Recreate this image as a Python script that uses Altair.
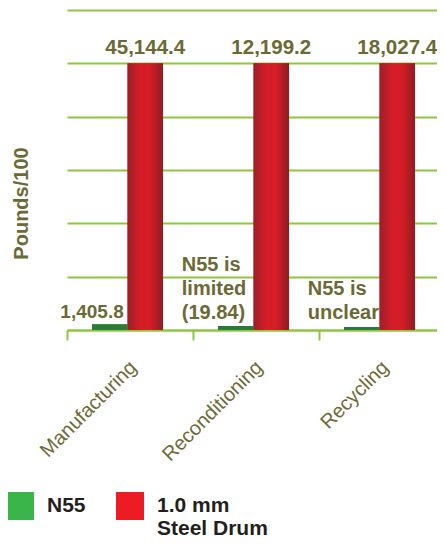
import altair as alt
import pandas as pd

# ---- data ----
categories = ["Manufacturing", "Reconditioning", "Recycling"]
series_names = ["N55", "1.0 mm Steel Drum"]
# bar heights as drawn, measured in grid steps (the picture is not to scale)
n55_bar_height = [0.11, 0.075, 0.055]
drum_bar_height = [5.0, 5.0, 5.0]
drum_value_labels = ["45,144.4", "12,199.2", "18,027.4"]
n55_value_labels = ["1,405.8", "", ""]
n55_notes = [[], ["N55 is", "limited", "(19.84)"], ["N55 is", "unclear"]]

OLIVE = "#6b6a34"
GRID = "#8dc63f"
FONT = "Liberation Sans"
NOTE_LINE = 24

rows = []
for i, c in enumerate(categories):
    rows.append({"category": c, "series": series_names[0], "height": n55_bar_height[i],
                 "label": n55_value_labels[i], "note": n55_notes[i]})
    rows.append({"category": c, "series": series_names[1], "height": drum_bar_height[i],
                 "label": drum_value_labels[i], "note": []})
df = pd.DataFrame(rows)

x = alt.X("category:N", sort=categories, title=None,
          scale=alt.Scale(paddingInner=0, paddingOuter=0),
          axis=alt.Axis(domainColor=GRID, domainWidth=2, tickColor=GRID, tickWidth=2,
                        tickSize=10, tickBand="extent", labelAngle=315, labelAlign="right",
                        labelBaseline="middle", labelPadding=24, labelOffset=3,
                        labelFont=FONT, labelFontSize=20, labelColor=OLIVE, grid=False))
xo = alt.XOffset("series:N", sort=series_names,
                 scale=alt.Scale(domain=series_names, paddingInner=0, paddingOuter=0.775, align=0.455))
y = alt.Y("height:Q", title="Pounds/100",
          scale=alt.Scale(domain=[0, 6], nice=False, zero=True),
          axis=alt.Axis(values=[0, 1, 2, 3, 4, 5, 6], labels=False, ticks=False, domain=False,
                        grid=True, gridColor=GRID, gridWidth=2,
                        titleX=-46, titleY=193, titleAngle=270, titleAlign="center",
                        titleBaseline="middle", titleFont=FONT, titleFontSize=20,
                        titleFontWeight="bold", titleColor=OLIVE))

base = alt.Chart(df)

legend_bars = base.mark_bar().encode(
    x=x, xOffset=xo, y=y,
    color=alt.Color("series:N", sort=series_names,
                    scale=alt.Scale(domain=series_names, range=["#3ab54a", "#ed1c24"]),
                    legend=alt.Legend(title=None, orient="none", legendX=-61, legendY=482,
                                      direction="horizontal", symbolType="square",
                                      symbolSize=784, symbolStrokeWidth=0, padding=0,
                                      labelFont=FONT, labelFontSize=21, labelFontWeight="bold",
                                      labelColor="#231f20", labelOffset=13, columnPadding=30,
                                      labelLimit=300, labelBaseline="middle",
                                      labelExpr="datum.label == '1.0 mm Steel Drum' ? ['1.0 mm', 'Steel Drum'] : [datum.label, '']")),
)

red_grad = alt.Gradient(gradient="linear", x1=0, x2=1, y1=0, y2=0,
                        stops=[alt.GradientStop(offset=0, color="#9c2027"),
                               alt.GradientStop(offset=0.35, color="#d41d27"),
                               alt.GradientStop(offset=0.65, color="#d41d27"),
                               alt.GradientStop(offset=1, color="#8e1e23")])

red_bars = base.transform_filter(alt.datum.series == series_names[1]).mark_bar(color=red_grad).encode(
    x=x, xOffset=xo, y=y)
green_bars = base.transform_filter(alt.datum.series == series_names[0]).mark_bar(color="#2c7a3a").encode(
    x=x, xOffset=xo, y=y)

top_labels = base.transform_filter(alt.datum.series == series_names[1]).mark_text(
    font=FONT, fontSize=20.5, fontWeight="bold", color=OLIVE, baseline="alphabetic", dy=-9
).encode(x=x, xOffset=xo, y=y, text="label:N")

n55_labels = base.transform_filter(
    (alt.datum.series == series_names[0]) & (alt.datum.label != "")
).mark_text(
    font=FONT, fontSize=19, fontWeight="bold", color=OLIVE, baseline="alphabetic",
    align="right", dx=14, dy=-12
).encode(x=x, xOffset=xo, y=alt.datum(0), text="label:N")

# multi-line notes: first line is anchored, so lift by the number of extra lines
note_layers = []
for n in sorted({len(nt) for nt in n55_notes if len(nt) > 0}):
    note_layers.append(
        base.transform_filter(
            f"datum.series == '{series_names[0]}' && length(datum.note) == {n}"
        ).mark_text(
            font=FONT, fontSize=20, fontWeight="bold", color=OLIVE, baseline="alphabetic",
            align="left", dx=-54, dy=-11 - NOTE_LINE * (n - 1), lineHeight=NOTE_LINE
        ).encode(x=x, xOffset=xo, y=alt.datum(0), text="note:N")
    )

chart = alt.layer(legend_bars, red_bars, green_bars, top_labels, n55_labels, *note_layers).properties(
    width=378, height=320,
    autosize=alt.AutoSizeParams(type="none"),
    padding={"left": 59, "top": 2, "right": -8, "bottom": 209},
).configure_view(stroke=None)

chart.save("out.html", embed_options={"renderer": "svg", "actions": False})
